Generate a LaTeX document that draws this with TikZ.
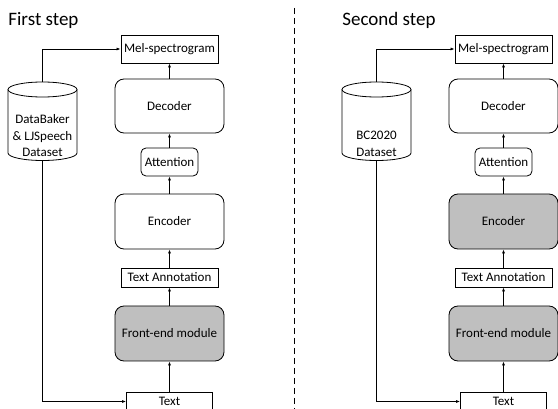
\documentclass[tikz,border=0pt]{standalone}
\usepackage{fontspec}
\setmainfont{Carlito}
\usetikzlibrary{arrows.meta}
\definecolor{fegray}{RGB}{191,191,191}
\begin{document}
\begin{tikzpicture}[x=1pt,y=-1pt, line width=0.8pt,
  box/.style={draw, fill=white, inner sep=0pt, font=\fontsize{13}{16}\selectfont},
  rbox/.style={box, rounded corners=9pt},
  abox/.style={box, rounded corners=5pt},
  shaded/.style={fill=fegray},
  arr/.style={-{Latex[length=4pt,width=3pt]}, line width=0.7pt},
  cyltext/.style={align=center, inner sep=0pt, font=\fontsize{13}{16.5}\selectfont},
  title/.style={anchor=base west, inner sep=0pt, font=\fontsize{19}{21}\selectfont},
  cyl/.style={draw, fill=white}
]
\useasboundingbox (0,0) rectangle (558,409);
\clip (0,0) rectangle (558,409);

% titles
\node[title] (t1) at (8,26) {First step};
\node[title] (t2) at (342,26) {Second step};

% divider
\coordinate (d1) at (294,8);
\coordinate (d2) at (294,409);
\draw[line width=0.8pt, dash pattern=on 6pt off 4pt] (d1) -- (d2);

% ---------- left panel ----------
\node[box, minimum width=97pt, minimum height=28pt] (mel1) at (169.5,49) {Mel-spectrogram};
\node[rbox, minimum width=109pt, minimum height=54pt] (dec1) at (169.5,106) {Decoder};
\node[abox, minimum width=57pt, minimum height=28pt] (att1) at (169.5,162) {Attention};
\node[rbox, minimum width=109pt, minimum height=55pt] (enc1) at (169.5,221.5) {Encoder};
\node[box, minimum width=97pt, minimum height=19pt] (ta1) at (169.5,277.5) {Text Annotation};
\node[rbox, shaded, minimum width=109pt, minimum height=55pt] (fe1) at (169.5,333.5) {Front-end module};
\node[box, minimum width=86pt, minimum height=19pt] (txt1) at (169.5,401.5) {Text};

\draw[arr] (txt1) -- (fe1);
\draw[arr] (fe1) -- (ta1);
\draw[arr] (ta1) -- (enc1);
\draw[arr] (enc1) -- (att1);
\draw[arr] (att1) -- (dec1);
\draw[arr] (dec1) -- (mel1);

\draw[cyl] (8,89.5) -- (8,153) arc[start angle=180, end angle=360, x radius=34.5pt, y radius=7.5pt] -- (77,89.5);
\draw[cyl] (42.5,89.5) ellipse [x radius=34.5pt, y radius=7.5pt];
\coordinate (cyl1top) at (42.5,82);
\coordinate (cyl1bot) at (42.5,160.5);
\node[cyltext] (ds1) at (42.5,136) {DataBaker\\ \& LJSpeech\\ Dataset};
\draw[arr] (cyl1top) |- (mel1.west);
\draw[arr] (cyl1bot) |- (txt1.west);

% ---------- right panel ----------
\node[box, minimum width=97pt, minimum height=28pt] (mel2) at (503.5,49) {Mel-spectrogram};
\node[rbox, minimum width=109pt, minimum height=54pt] (dec2) at (503.5,106) {Decoder};
\node[abox, minimum width=57pt, minimum height=28pt] (att2) at (503.5,162) {Attention};
\node[rbox, shaded, minimum width=109pt, minimum height=55pt] (enc2) at (503.5,221.5) {Encoder};
\node[box, minimum width=97pt, minimum height=19pt] (ta2) at (503.5,277.5) {Text Annotation};
\node[rbox, shaded, minimum width=109pt, minimum height=55pt] (fe2) at (503.5,333.5) {Front-end module};
\node[box, minimum width=86pt, minimum height=19pt] (txt2) at (503.5,401.5) {Text};

\draw[arr] (txt2) -- (fe2);
\draw[arr] (fe2) -- (ta2);
\draw[arr] (ta2) -- (enc2);
\draw[arr] (enc2) -- (att2);
\draw[arr] (att2) -- (dec2);
\draw[arr] (dec2) -- (mel2);

\draw[cyl] (342,89.5) -- (342,153) arc[start angle=180, end angle=360, x radius=34.5pt, y radius=7.5pt] -- (411,89.5);
\draw[cyl] (376.5,89.5) ellipse [x radius=34.5pt, y radius=7.5pt];
\coordinate (cyl2top) at (376.5,82);
\coordinate (cyl2bot) at (376.5,160.5);
\node[cyltext] (ds2) at (376.5,144) {BC2020\\ Dataset};
\draw[arr] (cyl2top) |- (mel2.west);
\draw[arr] (cyl2bot) |- (txt2.west);
\end{tikzpicture}
\end{document}
